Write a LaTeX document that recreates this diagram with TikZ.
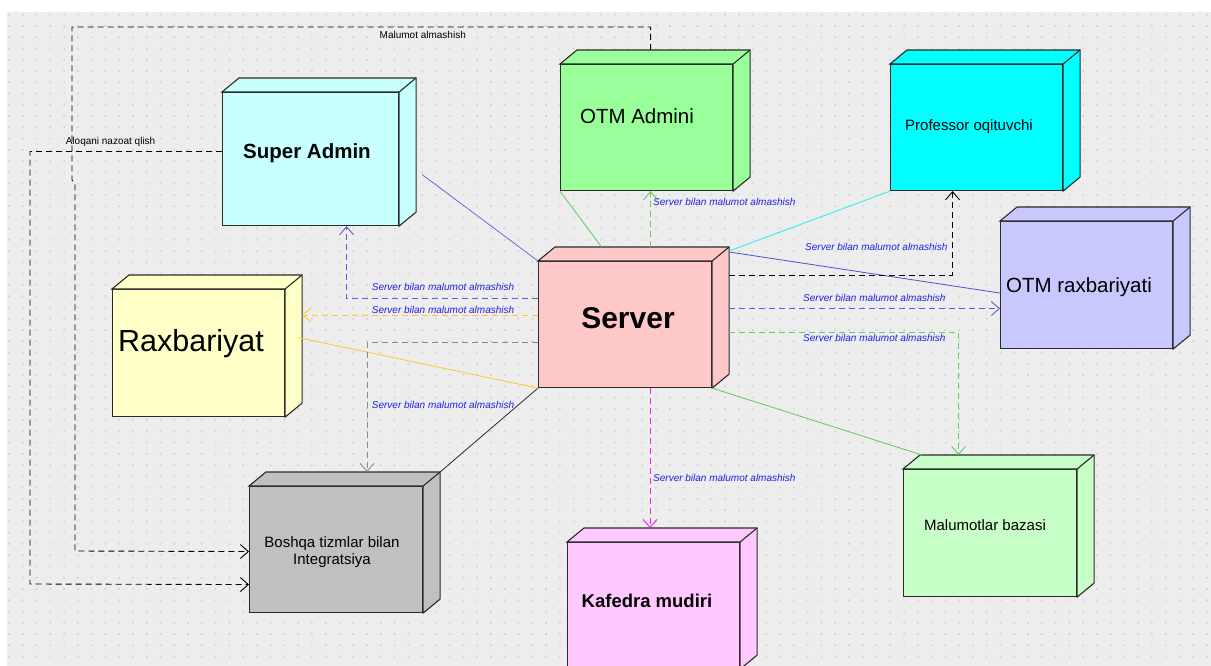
\documentclass[tikz,border=0pt]{standalone}
\usepackage{fontspec}
\setmainfont{Liberation Sans}
\usetikzlibrary{arrows.meta}
\definecolor{bg}{HTML}{EDEDED}
\definecolor{dotc}{HTML}{D2D2D2}
\definecolor{edge}{HTML}{2A2A2A}
\definecolor{lblblue}{HTML}{1F1FE6}
\definecolor{saline}{HTML}{6A6AE0}
\definecolor{gline}{HTML}{5CCB5C}
\definecolor{gdash}{HTML}{66CC66}
\definecolor{cline}{HTML}{22EEEE}
\definecolor{bline}{HTML}{5050D0}
\definecolor{bdash}{HTML}{5A5AE0}
\definecolor{mdash}{HTML}{EE22EE}
\definecolor{yline}{HTML}{FFC82A}
\definecolor{graydash}{HTML}{8C8C8C}
\definecolor{fsa}{HTML}{C8FFFF}
\definecolor{fadm}{HTML}{99FF99}
\definecolor{fprof}{HTML}{00FFFF}
\definecolor{fsrv}{HTML}{FFC8C8}
\definecolor{fotmr}{HTML}{C8C8FF}
\definecolor{frx}{HTML}{FFFFC8}
\definecolor{fbo}{HTML}{C0C0C0}
\definecolor{fkaf}{HTML}{FFC8FF}
\definecolor{fdb}{HTML}{C8FFC8}
\tikzset{
  cubefront/.style={rectangle, draw=edge, line width=1.1pt, inner sep=0pt, anchor=north west},
  cubeline/.style={draw=edge, line width=1.1pt, line join=miter},
  conn/.style={line width=0.8pt},
  dsh/.style={line width=0.9pt, dash pattern=on 6pt off 4pt},
  opentip/.style={-{Straight Barb[length=8pt,width=14pt]}},
  lbl/.style={font=\fontsize{10}{12}\selectfont\itshape, text=lblblue, inner sep=0pt, anchor=base west},
  note/.style={font=\fontsize{10}{12}\selectfont, inner sep=0pt, anchor=base west},
  ttl/.style={inner sep=0pt, anchor=base},
}
\newcommand\cubebox[6]{%
  \node[cubefront, fill=#6, minimum width=#4pt, minimum height=#5pt] (#1) at (#2,#3) {};
  \draw[cubeline, fill=#6] (#1.north west) -- ++(17,-14) -- ([shift={(17,-14)}]#1.north east)
     -- ([shift={(17,-14)}]#1.south east) -- (#1.south east) -- (#1.north east) -- cycle;
  \draw[cubeline] (#1.north east) -- ++(17,-14);
}
\begin{document}
\begin{tikzpicture}[x=1pt,y=-1pt]
\useasboundingbox (0,0) rectangle (1211,666);
\fill[white] (0,0) rectangle (1211,666);
\fill[bg] (7,12) rectangle (1211,666);
\fill[dotc] \foreach \i in {0,...,87}{ \foreach \j in {0,...,57}{ ({9+13.77*\i-0.8},{16.3+11.26*\j-0.8}) rectangle ++(1.6,-1.6) } };

% boxes
\cubebox{sa}{222}{92}{176}{133}{fsa}
\cubebox{adm}{560}{64}{172}{126}{fadm}
\cubebox{prof}{890}{64}{172}{126}{fprof}
\cubebox{otmr}{1000}{221}{172}{127}{fotmr}
\cubebox{srv}{538}{261}{173}{126}{fsrv}
\cubebox{rx}{112}{289}{172}{127}{frx}
\cubebox{bo}{249}{486}{173}{126}{fbo}
\cubebox{kaf}{567}{542}{172}{126}{fkaf}
\cubebox{db}{903}{469}{173}{127}{fdb}

% titles
\node[ttl, font=\fontsize{20.5}{24}\selectfont\bfseries] (sa-t) at (307,158.5) {Super Admin};
\node[ttl, font=\fontsize{20.5}{24}\selectfont] (adm-t) at (637,124) {OTM Admini};
\node[ttl, font=\fontsize{15}{18}\selectfont] (prof-t) at (969,131) {Professor oqituvchi};
\node[ttl, font=\fontsize{30}{36}\selectfont\bfseries] (srv-t) at (628,328.5) {Server};
\node[ttl, font=\fontsize{20.5}{24}\selectfont] (otmr-t) at (1079,292.3) {OTM raxbariyati};
\node[ttl, font=\fontsize{30.5}{36}\selectfont] (rx-t) at (191,351) {Raxbariyat};
\node[ttl, font=\fontsize{15}{18}\selectfont] (bo-t1) at (332,547.7) {Boshqa tizmlar bilan};
\node[ttl, font=\fontsize{15}{18}\selectfont] (bo-t2) at (332,564) {Integratsiya};
\node[ttl, font=\fontsize{18.5}{22}\selectfont\bfseries] (kaf-t) at (647,607.7) {Kafedra mudiri};
\node[ttl, font=\fontsize{15}{18}\selectfont] (db-t) at (985,530.7) {Malumotlar bazasi};

% bend points
\coordinate (ma1) at (72,27);
\coordinate (ma2) at (72,180);
\coordinate (ma3) at (75,184);
\coordinate (ma4) at (75,551);
\coordinate (al1) at (30,584);

% solid connectors
\draw[conn, saline] ([xshift=23pt,yshift=-15.5pt]sa.east) -- (srv.north west);
\draw[conn, gline] (adm.south west) -- ([xshift=-23.5pt,yshift=14pt]srv.north);
\draw[conn, cline] ([xshift=17pt,yshift=10pt]srv.north east) -- (prof.south west);
\draw[conn, bline] ([xshift=17pt,yshift=9pt]srv.north east) -- ([yshift=-8pt]otmr.west);
\draw[conn, gline] (srv.south east) -- ([xshift=19pt,yshift=14pt]db.north west);
\draw[conn, edge] (srv.south west) -- ([xshift=17pt,yshift=14pt]bo.north east);
\draw[conn, yline] ([xshift=13pt,yshift=15.5pt]rx.east) -- (srv.south west);

% dashed connectors
\draw[dsh, gdash, opentip] ([xshift=25.5pt,yshift=14pt]srv.north) -- ([xshift=4pt]adm.south);
\draw[dsh, black, opentip] ([xshift=17pt,yshift=-14pt]srv.north east) -| ([xshift=-24pt]prof.south);
\draw[dsh, bdash, opentip] ([xshift=17pt,yshift=16pt]srv.east) -- ([yshift=-23.5pt]otmr.west);
\draw[dsh, gdash, opentip] ([xshift=17pt,yshift=-7.5pt]srv.east) -| ([xshift=-31.5pt,yshift=14pt]db.north);
\draw[dsh, mdash, opentip] ([xshift=25pt]srv.south) -- ([xshift=-3.5pt,yshift=14pt]kaf.north);
\draw[dsh, graydash, opentip] ([yshift=-18pt]srv.west) -| ([xshift=31pt,yshift=14pt]bo.north);
\draw[dsh, yline, opentip] ([yshift=9.5pt]srv.west) -- ([xshift=17pt,yshift=38pt]rx.east);
\draw[dsh, bdash, opentip] ([yshift=26.5pt]srv.west) -| ([xshift=36pt]sa.south);
\draw[dsh, black, opentip] ([xshift=4pt,yshift=14pt]adm.north) |- (ma1) -- (ma2) -- (ma3) -- (ma4) -- ([yshift=-2pt]bo.west);
\draw[dsh, black, opentip] ([yshift=7.5pt]sa.west) -| (al1) -- ([yshift=-35pt]bo.west);

% labels
\node[lbl] (l1) at (653,206) {Server bilan malumot almashish};
\node[lbl] (l2) at (805,250) {Server bilan malumot almashish};
\node[lbl] (l3) at (803,301) {Server bilan malumot almashish};
\node[lbl] (l4) at (803,341) {Server bilan malumot almashish};
\node[lbl] (l5) at (653,481.5) {Server bilan malumot almashish};
\node[lbl] (l6) at (371.7,290) {Server bilan malumot almashish};
\node[lbl] (l7) at (371.7,313.5) {Server bilan malumot almashish};
\node[lbl] (l8) at (371.7,408) {Server bilan malumot almashish};
\node[note] (n1) at (379.5,38.5) {Malumot almashish};
\node[note] (n2) at (65.6,144.5) {Aloqani nazoat qlish};
\end{tikzpicture}
\end{document}
